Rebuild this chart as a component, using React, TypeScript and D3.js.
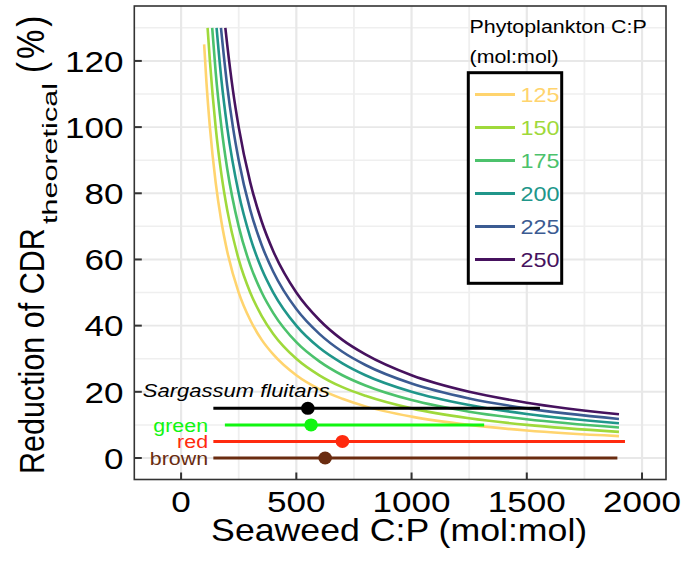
import React from 'react';
import * as d3 from 'd3';

// curve values (% reduction), [seaweed C:P, value]
const phytoCP = [125, 150, 175, 200, 225, 250];
const reduction125: [number, number][] = [[100, 125], [110, 113.6], [125, 100], [150, 83.3], [175, 71.4], [200, 62.5], [250, 50], [300, 41.7], [350, 35.7], [400, 31.3], [500, 25], [600, 20.8], [700, 17.9], [800, 15.6], [1000, 12.5], [1250, 10], [1500, 8.3], [1900, 6.6]];
const reduction150: [number, number][] = [[115, 130], [125, 120], [150, 100], [175, 85.7], [200, 75], [250, 60], [300, 50], [350, 42.9], [400, 37.5], [500, 30], [600, 25], [700, 21.4], [800, 18.8], [1000, 15], [1250, 12], [1500, 10], [1900, 7.9]];
const reduction175: [number, number][] = [[135, 130], [150, 116.7], [175, 100], [200, 87.5], [250, 70], [300, 58.3], [350, 50], [400, 43.8], [500, 35], [600, 29.2], [700, 25], [800, 21.9], [1000, 17.5], [1250, 14], [1500, 11.7], [1900, 9.2]];
const reduction200: [number, number][] = [[154, 130], [175, 114.3], [200, 100], [250, 80], [300, 66.7], [350, 57.1], [400, 50], [500, 40], [600, 33.3], [700, 28.6], [800, 25], [1000, 20], [1250, 16], [1500, 13.3], [1900, 10.5]];
const reduction225: [number, number][] = [[173, 130], [200, 112.5], [225, 100], [250, 90], [300, 75], [350, 64.3], [400, 56.3], [500, 45], [600, 37.5], [700, 32.1], [800, 28.1], [1000, 22.5], [1250, 18], [1500, 15], [1900, 11.8]];
const reduction250: [number, number][] = [[192, 130], [200, 125], [225, 111.1], [250, 100], [300, 83.3], [350, 71.4], [400, 62.5], [500, 50], [600, 41.7], [700, 35.7], [800, 31.3], [1000, 25], [1250, 20], [1500, 16.7], [1900, 13.2]];
const curveColors = ['#FFD46E', '#9FD93B', '#4CC26C', '#20968A', '#3B5B92', '#46125E'];

// seaweed groups: mean and range of C:P
const groups = ['Sargassum fluitans', 'green', 'red', 'brown'];
const groupY = [15, 10, 5, 0];
const groupMean = [550, 564, 700, 625];
const groupMin = [140, 190, 140, 140];
const groupMax = [1557, 1315, 1926, 1893];
const groupColors = ['#000000', '#11F511', '#FF2A0E', '#6A2C10'];

const xTicks = [0, 500, 1000, 1500, 2000];
const xMinor = [250, 750, 1250, 1750];
const yTicks = [0, 20, 40, 60, 80, 100, 120];
const yMinor = [10, 30, 50, 70, 90, 110, 130];

const SX = 1.17; // the picture is a bit wider than tall
const font = '"Liberation Sans", Arial, sans-serif';

const SText = ({ x, y, anchor = 'start', size, fill = '#000', italic = false, children }: any) => (
  <g transform={`translate(${x},${y}) scale(${SX},1)`}>
    <text textAnchor={anchor} fontSize={size} fill={fill} fontFamily={font} fontStyle={italic ? 'italic' : 'normal'}>
      {children}
    </text>
  </g>
);

export default function App() {
  const left = 134.3, right = 666, top = 6, bottom = 479.5;
  const x = d3.scaleLinear().domain([-203, 2104]).range([left, right]);
  const y = d3.scaleLinear().domain([-6.5, 136.6]).range([bottom, top]);
  const line = d3.line<[number, number]>()
    .x(d => x(d[0]))
    .y(d => y(d[1]))
    .curve(d3.curveMonotoneX);
  const curves = [reduction125, reduction150, reduction175, reduction200, reduction225, reduction250];

  return (
    <svg width={683} height={566} style={{ position: 'absolute', left: 0, top: 0, background: '#fff' }}>
      {/* grid */}
      {xMinor.map(v => <line key={'xm' + v} x1={x(v)} x2={x(v)} y1={top} y2={bottom} stroke="#EFEFEF" strokeWidth={1.8} />)}
      {yMinor.map(v => <line key={'ym' + v} x1={left} x2={right} y1={y(v)} y2={y(v)} stroke="#EFEFEF" strokeWidth={1.5} />)}
      {xTicks.map(v => <line key={'xg' + v} x1={x(v)} x2={x(v)} y1={top} y2={bottom} stroke="#E8E8E8" strokeWidth={2.2} />)}
      {yTicks.map(v => <line key={'yg' + v} x1={left} x2={right} y1={y(v)} y2={y(v)} stroke="#E8E8E8" strokeWidth={1.9} />)}

      {/* curves */}
      {curves.map((c, i) => (
        <path key={'c' + i} d={line(c) || ''} fill="none" stroke={curveColors[i]} strokeWidth={2.6} />
      ))}

      {/* seaweed ranges */}
      {groups.map((g, i) => (
        <g key={g}>
          <line x1={x(groupMin[i])} x2={x(groupMax[i])} y1={y(groupY[i])} y2={y(groupY[i])} stroke={groupColors[i]} strokeWidth={3} />
          <ellipse cx={x(groupMean[i])} cy={y(groupY[i])} rx={6.5 * 1.05} ry={6.5} fill={groupColors[i]} />
        </g>
      ))}
      <SText x={x(-166)} y={y(groupY[0]) - 11} size={18.8} italic>{groups[0]}</SText>
      {groups.slice(1).map((g, j) => (
        <SText key={'l' + g} x={x(117)} y={y(groupY[j + 1]) + 7} anchor="end" size={18.3} fill={groupColors[j + 1]}>{g}</SText>
      ))}

      {/* legend */}
      <SText x={469.5} y={33.3} size={18.3}>Phytoplankton C:P</SText>
      <SText x={469.5} y={63} size={18.3}>(mol:mol)</SText>
      <rect x={468.3} y={72.7} width={93.4} height={210.6} fill="#fff" stroke="#000" strokeWidth={3} />
      {phytoCP.map((p, i) => (
        <g key={'lg' + p}>
          <line x1={475} x2={515} y1={94.5 + i * 33} y2={94.5 + i * 33} stroke={curveColors[i]} strokeWidth={2.8} />
          <SText x={520.5} y={94.5 + i * 33 + 7.3} size={20} fill={curveColors[i]}>{p}</SText>
        </g>
      ))}

      {/* panel border and ticks */}
      <rect x={left} y={top} width={right - left} height={bottom - top} fill="none" stroke="#333" strokeWidth={1.6} />
      {xTicks.map(v => <line key={'xt' + v} x1={x(v)} x2={x(v)} y1={bottom - 7} y2={bottom} stroke="#333" strokeWidth={2} />)}
      {yTicks.map(v => <line key={'yt' + v} x1={left} x2={left + 7.5} y1={y(v)} y2={y(v)} stroke="#333" strokeWidth={2} />)}

      {xTicks.map(v => <SText key={'xl' + v} x={x(v)} y={512} anchor="middle" size={30}>{v}</SText>)}
      {yTicks.map(v => <SText key={'yl' + v} x={123.5} y={y(v) + 10.8} anchor="end" size={30}>{v}</SText>)}

      {/* axis titles */}
      <SText x={(left + right) / 2 - 1} y={541} anchor="middle" size={30.5}>Seaweed C:P (mol:mol)</SText>
      <g transform={`translate(44.3,472) rotate(-90) scale(1,${SX})`} fontFamily={font}>
        <text x={-2} y={0} fontSize={30.5}>Reduction of CDR</text>
        <text x={248} y={10.6} fontSize={18} textLength={141} lengthAdjust="spacingAndGlyphs">theoretical</text>
        <text x={399} y={0} fontSize={33} letterSpacing={3}>(%)</text>
      </g>
    </svg>
  );
}
